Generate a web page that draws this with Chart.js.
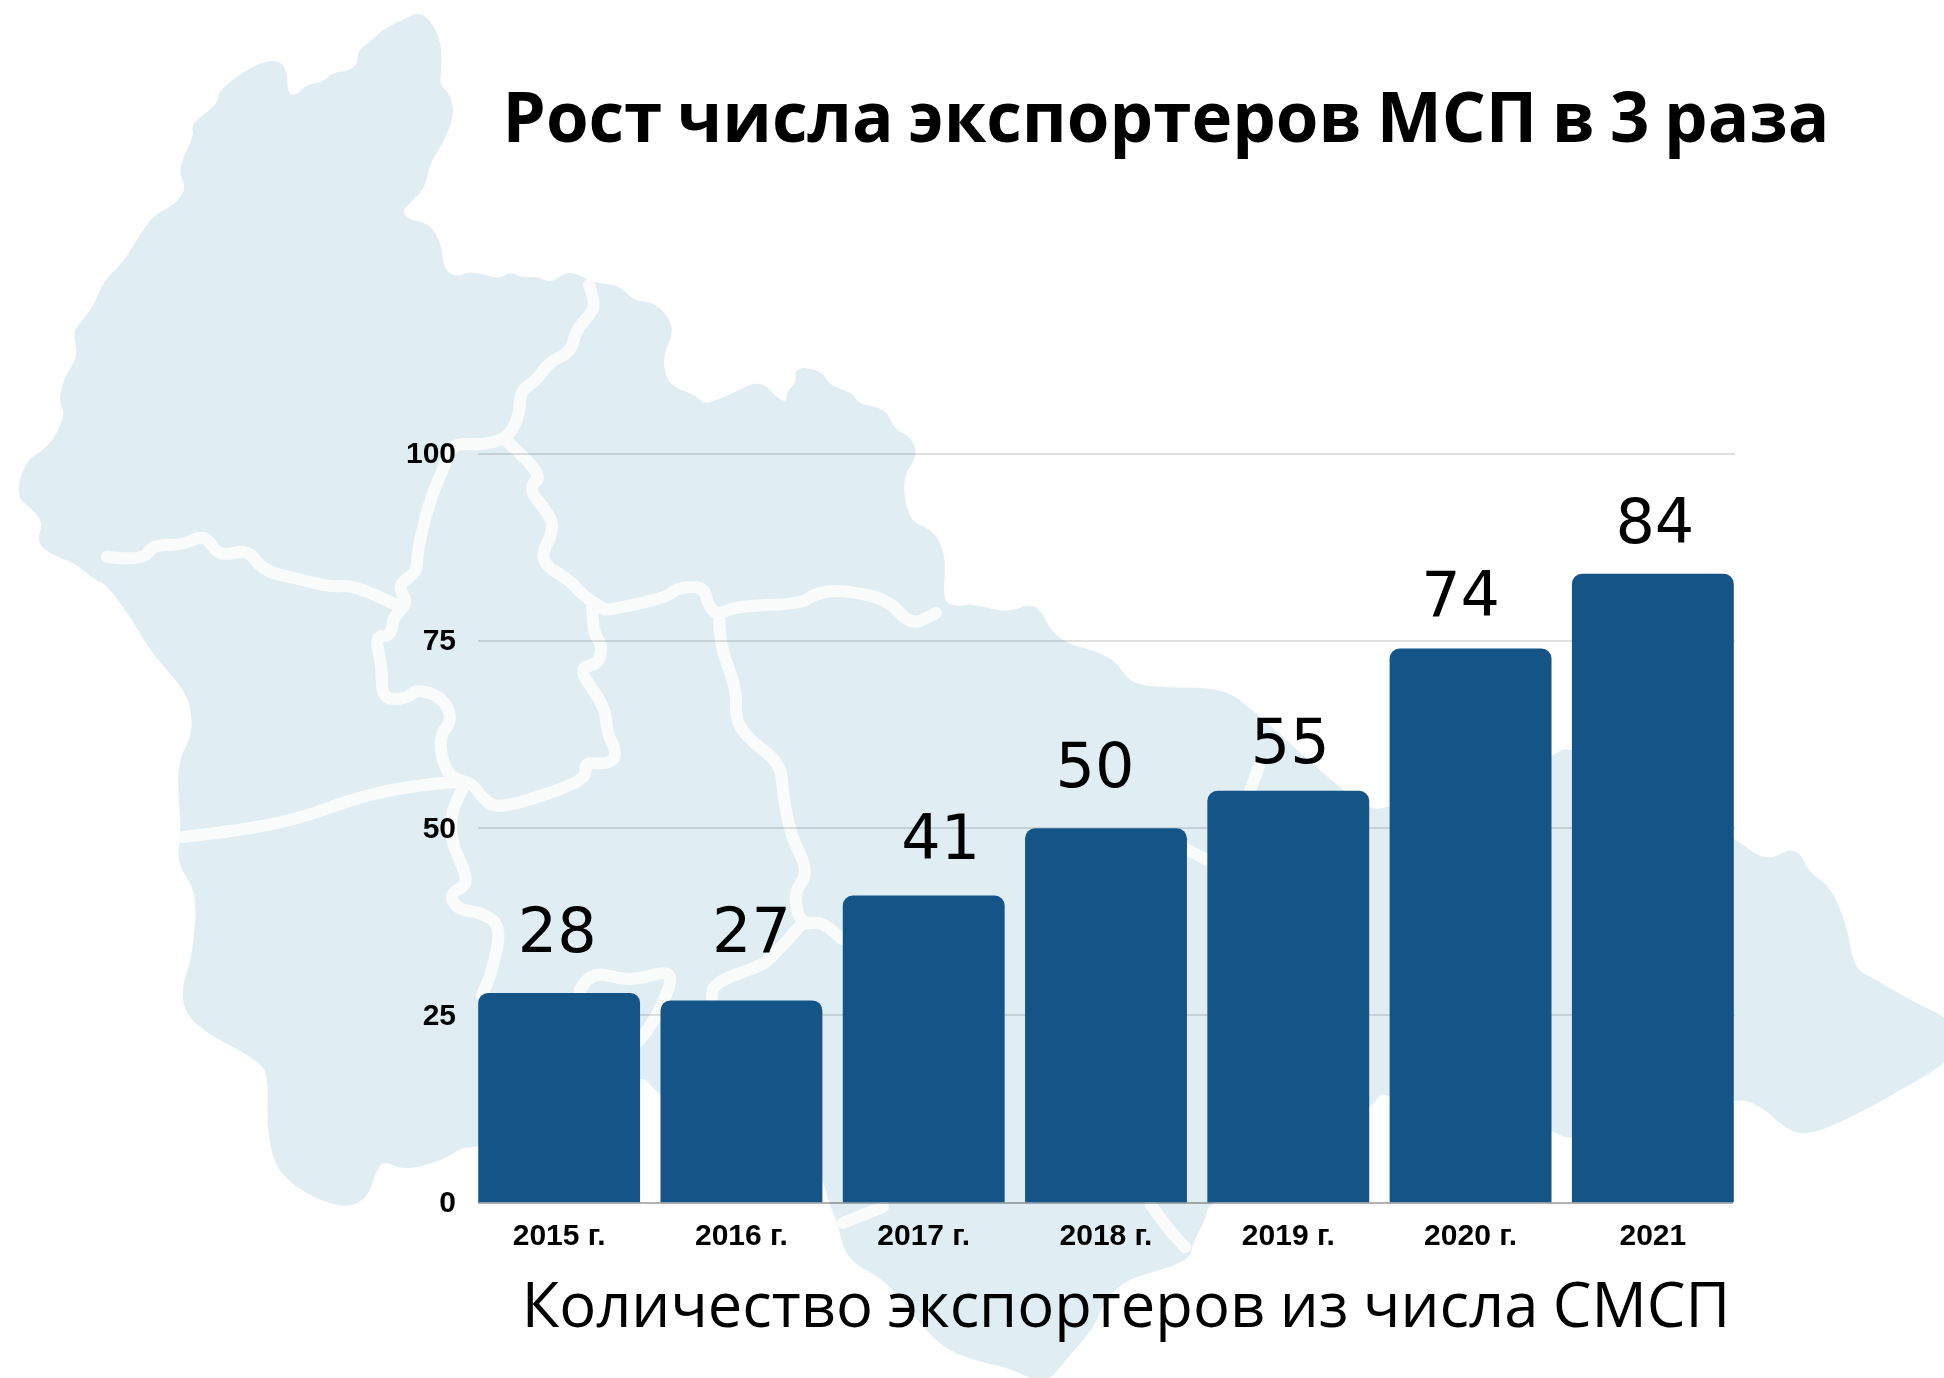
<!DOCTYPE html>
<html lang="ru">
<head>
<meta charset="utf-8">
<title>Рост числа экспортеров МСП</title>
<script src="https://cdn.jsdelivr.net/npm/chart.js@4/dist/chart.umd.min.js"></script>
<style>
    html, body { margin: 0; padding: 0; background: #fff; }
    #wrap { position: relative; width: 1944px; height: 1378px; overflow: hidden; }
    #map, #myChart { position: absolute; left: 0; top: 0; }
</style>
</head>
<body>
<div id="wrap">
    <!-- background map, traced by hand, it is decoration and not data -->
    <svg id="map" width="1944" height="1378" viewBox="0 0 1944 1378">
        <path fill="#e0eef3" stroke="#e0eef3" stroke-width="3" stroke-linejoin="round" d="M417 14 429 20 440 43 440 71 438 85 449 95 453 115 442 142 429 162 424 186 413 198 400 211 408 221 429 225 440 245 442 269 455 279 471 272 498 281 511 273 520 279 538 278 551 285 567 273 580 277 594 284 620 287 632 302 656 304 674 328 661 356 665 379 674 389 696 397 704 407 735 394 760 381 778 401 788 403 788 392 798 383 796 368 821 372 829 387 852 394 857 405 885 410 893 430 911 439 916 456 900 479 908 523 931 530 945 555 941 604 959 608 972 605 1008 615 1036 602 1054 642 1112 657 1128 684 1158 689 1219 689 1247 706 1338 789 1371 812 1390 808 1551 761 1570 743 1733 838 1765 864 1796 847 1807 873 1829 887 1845 924 1853 970 1874 980 1912 1003 1944 1017 1960 1040 1944 1063 1912 1082 1855 1114 1807 1135 1784 1126 1760 1103 1733 1096 1572 1142 1551 1126 1390 1096 1380 1091 1368 1110 1207 1202 1205 1217 1191 1243 1189 1258 1156 1270 1129 1277 1104 1297 1093 1327 1066 1357 1044 1385 1013 1367 964 1357 932 1337 889 1280 848 1260 839 1223 830 1202 822 1170 760 1150 661 1098 639 1066 478 1147 464 1145 442 1159 404 1169 386 1160 377 1165 364 1203 330 1205 279 1175 268 1130 270 1078 261 1060 194 1025 181 995 194 956 199 892 178 863 183 833 179 786 181 758 194 734 192 703 179 681 152 651 134 620 109 585 97 579 74 561 51 553 38 541 45 522 31 506 20 498 20 482 29 460 42 453 56 439 67 413 60 403 65 379 80 356 74 332 85 320 96 304 105 281 123 265 143 233 156 215 174 207 188 190 181 174 183 162 196 134 192 125 219 105 219 93 241 75 259 65 277 61 286 71 286 95 297 97 308 85 321 85 335 73 348 73 359 65 359 51 375 40 384 30 406 20Z"/>
        <g fill="none" stroke="#fafcfc" stroke-width="12" stroke-linejoin="round" stroke-linecap="round">
            <path d="M589 285 596 304 589 316 576 330 571 352 549 362 536 381 520 391 520 411 513 429 504 439 482 445 453 443 446 462 429 502 417 553 417 573 397 585 408 603 393 617 391 636 375 636 382 667 382 699 406 699 417 689 442 697 453 719 438 738 446 774 464 782 473 784 487 804 504 807 551 793 587 778 584 762 610 764 617 753 607 733 605 706 577 668 599 664 602 644 594 635 592 606"/>
            <path d="M107 557 143 561 152 545 183 545 205 534 219 557 248 549 263 571 299 579 330 587 353 585 397 605"/>
            <path d="M504 439 545 474 527 488 549 514 554 530 538 561 571 581 580 593 603 609 610 610 668 597 676 588 704 586 709 608 719 615 735 606 801 604 816 593 842 590 888 599 911 626 936 613"/>
            <path d="M464 782 446 782 388 790 344 802 304 817 250 829 183 837"/>
            <path d="M464 786 451 809 451 841 464 869 467 885 449 894 458 910 480 912 502 926 491 975 482 995"/>
            <path d="M719 615 719 644 737 689 735 720 750 740 781 764 783 796 791 836 809 872 793 894 801 925 821 921 842 939"/>
            <path d="M801 925 770 960 757 967 713 983 712 1000"/>
            <path d="M580 990 590 970 630 982 667 970 672 983 653 1023 637 1043"/>
            <path d="M843 1223 883 1207"/>
            <path d="M1151 1205 1169 1230 1185 1247"/>
            <path d="M1186 849 1207 860"/>
            <path d="M1259 766 1250 791"/>
        </g>
    </svg>
    <canvas id="myChart" width="1944" height="1378"></canvas>
</div>

<script>
const categories = ['2015 г.', '2016 г.', '2017 г.', '2018 г.', '2019 г.', '2020 г.', '2021'];
const exporters = [28, 27, 41, 50, 55, 74, 84];
const yTicks = [0, 25, 50, 75, 100];

// the number labels in the picture sit a bit off centre, px from bar centre / bar top
const labelShiftX = [-2, 10, 17, -11, 2, -10, 2];
const labelGapY = [41, 48, 37, 41, 28, 33, 31];

const titleText = 'Рост числа экспортеров МСП в 3 раза';
const subtitleText = 'Количество экспортеров из числа СМСП';

// round off the traced map corners, each point becomes a control point between midpoints
document.querySelectorAll('#map path').forEach((p) => {
    const raw = p.getAttribute('d');
    const closed = raw.endsWith('Z');
    const n = raw.replace(/[MZ]/g, '').trim().split(/\s+/).map(Number);
    const pts = [];
    for (let i = 0; i < n.length; i += 2) pts.push([n[i], n[i + 1]]);
    const mid = (a, b) => ((a[0] + b[0]) / 2) + ' ' + ((a[1] + b[1]) / 2);
    let d;
    if (closed) {
        d = 'M' + mid(pts[pts.length - 1], pts[0]);
        pts.forEach((pt, i) => {
            d += ' Q' + pt[0] + ' ' + pt[1] + ' ' + mid(pt, pts[(i + 1) % pts.length]);
        });
        d += 'Z';
    } else {
        d = 'M' + pts[0][0] + ' ' + pts[0][1];
        for (let i = 1; i < pts.length - 1; i++) {
            d += ' Q' + pts[i][0] + ' ' + pts[i][1] + ' ' + mid(pts[i], pts[i + 1]);
        }
        const last = pts[pts.length - 1];
        d += ' L' + last[0] + ' ' + last[1];
    }
    p.setAttribute('d', d);
});

// gridlines stop short of the category band, so they are drawn here from the y scale
const shortGrid = {
    id: 'shortGrid',
    beforeDatasetsDraw(chart) {
        const ctx = chart.ctx;
        const y = chart.scales.y;
        ctx.save();
        y.ticks.forEach((t) => {
            const py = Math.round(y.getPixelForValue(t.value));
            ctx.strokeStyle = t.value === 0 ? 'rgba(0, 0, 0, 0.3)' : 'rgba(0, 0, 0, 0.12)';
            ctx.lineWidth = 2;
            ctx.beginPath();
            ctx.moveTo(478, py);
            ctx.lineTo(t.value === 0 ? 1733 : 1735, py);
            ctx.stroke();
        });
        ctx.restore();
    },
};

const textLabels = {
    id: 'textLabels',
    afterDraw(chart) {
        const ctx = chart.ctx;
        const meta = chart.getDatasetMeta(0);
        ctx.save();
        ctx.fillStyle = '#000';
        ctx.textAlign = 'center';
        ctx.textBaseline = 'alphabetic';

        ctx.font = '62px "DejaVu Sans"';
        meta.data.forEach((bar, i) => {
            ctx.fillText(String(exporters[i]), bar.x + labelShiftX[i], bar.y - labelGapY[i]);
        });

        ctx.font = 'bold 69px "Open Sans"';
        ctx.wordSpacing = '-3.2px';
        ctx.fillText(titleText, 1166, 142);

        ctx.font = '61.5px "Open Sans"';
        ctx.wordSpacing = '-1.5px';
        ctx.fillText(subtitleText, 1126, 1327);
        ctx.restore();
    },
};

const tickFont = { family: '"Liberation Sans"', size: 30, weight: 'bold' };

new Chart(document.getElementById('myChart'), {
    type: 'bar',
    data: {
        labels: categories,
        datasets: [
            {
                data: exporters,
                backgroundColor: '#155487',
                borderRadius: 10,
                barPercentage: 0.888,
                categoryPercentage: 1,
            },
        ],
    },
    options: {
        responsive: false,
        animation: false,
        layout: { padding: { top: 454, right: 200 } },
        plugins: {
            legend: false,
            tooltip: { enabled: false },
        },
        scales: {
            x: {
                grid: { display: false },
                border: { display: false },
                ticks: { color: '#000', font: tickFont, padding: 8, maxRotation: 0 },
                afterFit(scale) {
                    scale.height = 175.5;
                },
            },
            y: {
                min: 0,
                max: 100,
                afterBuildTicks(scale) {
                    scale.ticks = yTicks.map((v) => ({ value: v }));
                },
                grid: { display: false },
                border: { display: false },
                ticks: { color: '#000', font: tickFont, padding: 4, labelOffset: 1 },
                afterFit(scale) {
                    scale.width = 468;
                },
            },
        },
    },
    plugins: [shortGrid, textLabels],
});
</script>
</body>
</html>
